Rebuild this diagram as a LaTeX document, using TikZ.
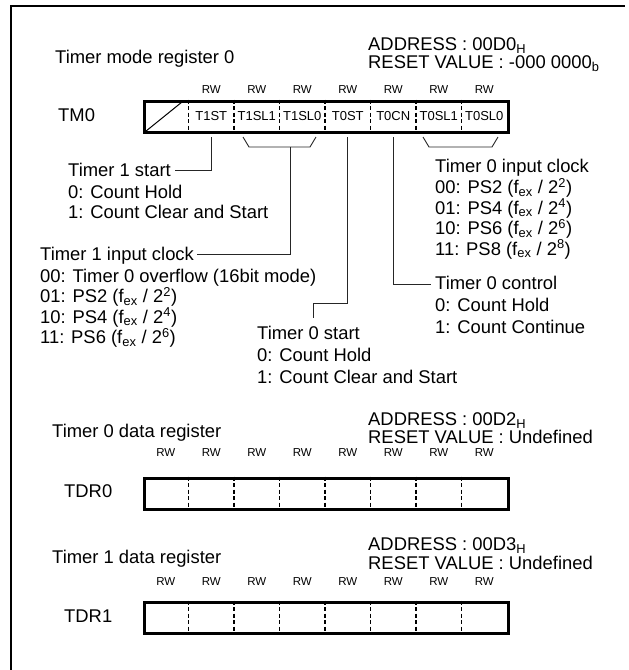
\documentclass[tikz,border=0pt]{standalone}
\usepackage{fontspec}
\setmainfont{Liberation Sans}
\usetikzlibrary{calc}
\newcommand{\ssub}[1]{\smash{\textsubscript{#1}}}
\begin{document}
\begin{tikzpicture}[x=1pt,y=-1pt,
  txt/.style={anchor=base west, inner sep=0pt, font=\fontsize{18.4}{21}\selectfont},
  rwlab/.style={anchor=base, inner sep=0pt, font=\fontsize{11.5}{13}\selectfont},
  bitlab/.style={anchor=base, inner sep=0pt, font=\fontsize{13}{14}\selectfont},
  regbox/.style={draw, line width=3.2pt, inner sep=0pt, minimum width=364pt, minimum height=31pt, anchor=north west},
  divider/.style={line width=1.8pt, dash pattern=on 4pt off 2.5pt},
  conn/.style={line width=0.9pt, draw=black!85},
  frameline/.style={line width=2pt}]
\useasboundingbox (0,0) rectangle (629,670);
\draw[frameline] (11,670) -- (11,6) -- (625,6);

% ===== TM0 =====
\node[txt] (tmtitle) at (55,63.6) {Timer mode register 0};
\node[txt] (tmaddr) at (368,50.6) {ADDRESS : 00D0\ssub{H}};
\node[txt] (tmreset) at (368,68.6) {RESET VALUE : -000 0000\ssub{b}};
\node[txt] (tmname) at (58,121.6) {TM0};
\node[regbox] (tmbox) at (143,99.5) {};
\foreach \k in {1,...,7} {
  \draw[divider] ($(tmbox.north west)+(45.5*\k,0)$) -- ($(tmbox.south west)+(45.5*\k,0)$);
}
\draw[line width=1pt] ($(tmbox.south west)+(1,-1)$) -- ($(tmbox.north west)+(39,2.5)$);
\foreach \k/\t/\n in {1/T1ST/b6,2/T1SL1/b5,3/T1SL0/b4,4/T0ST/b3,5/T0CN/b2,6/T0SL1/b1,7/T0SL0/b0} {
  \node[rwlab] (rw\n) at (143+45.5*\k+22.75,93) {RW};
  \node[bitlab] (\n) at (143+45.5*\k+22.75,120.5) {\t};
}

% connectors
\coordinate (c6a) at (211.25,137);
\coordinate (c6b) at (211.25,170);
\coordinate (c6c) at (175,170);
\draw[conn] (c6a) -- (c6b) -- (c6c);

\coordinate (br1a) at (243,137);
\coordinate (br1b) at (249,147);
\coordinate (br1c) at (310,147);
\coordinate (br1d) at (316,137);
\coordinate (br1m) at (290,147);
\coordinate (br1e) at (290,254);
\coordinate (br1f) at (197,254);
\draw[conn] (br1a) -- (br1b) -- (br1c) -- (br1d);
\draw[conn] (br1m) -- (br1e) -- (br1f);

\coordinate (c3a) at (347.75,137);
\coordinate (c3b) at (347.75,303);
\coordinate (c3c) at (313,303);
\coordinate (c3d) at (313,318);
\draw[conn] (c3a) -- (c3b) -- (c3c) -- (c3d);

\coordinate (c2a) at (393.25,137);
\coordinate (c2b) at (393.25,284);
\coordinate (c2c) at (431,284);
\draw[conn] (c2a) -- (c2b) -- (c2c);

\coordinate (br0a) at (423,137);
\coordinate (br0b) at (429,147);
\coordinate (br0c) at (492,147);
\coordinate (br0d) at (498,137);
\draw[conn] (br0a) -- (br0b) -- (br0c) -- (br0d);

% descriptions
\node[txt] (t1s0) at (68,176.6) {Timer 1 start};
\node[txt] (t1s1) at (68,198.1) {0: Count Hold};
\node[txt] (t1s2) at (68,218.6) {1: Count Clear and Start};

\node[txt] (t1c0) at (40,260.6) {Timer 1 input clock};
\node[txt] (t1c1) at (40,282.1) {00: Timer 0 overflow (16bit mode)};
\node[txt] (t1c2) at (40,302.6) {01: PS2 (f\textsubscript{ex} / 2\textsuperscript{2})};
\node[txt] (t1c3) at (40,323.1) {10: PS4 (f\textsubscript{ex} / 2\textsuperscript{4})};
\node[txt] (t1c4) at (40,343.6) {11: PS6 (f\textsubscript{ex} / 2\textsuperscript{6})};

\node[txt] (t0s0) at (257,339.6) {Timer 0 start};
\node[txt] (t0s1) at (257,361.6) {0: Count Hold};
\node[txt] (t0s2) at (257,383.6) {1: Count Clear and Start};

\node[txt] (t0c0) at (435,172.6) {Timer 0 input clock};
\node[txt] (t0c1) at (435,193.6) {00: PS2 (f\textsubscript{ex} / 2\textsuperscript{2})};
\node[txt] (t0c2) at (435,214.1) {01: PS4 (f\textsubscript{ex} / 2\textsuperscript{4})};
\node[txt] (t0c3) at (435,234.6) {10: PS6 (f\textsubscript{ex} / 2\textsuperscript{6})};
\node[txt] (t0c4) at (435,255.1) {11: PS8 (f\textsubscript{ex} / 2\textsuperscript{8})};

\node[txt] (t0n0) at (435,289.6) {Timer 0 control};
\node[txt] (t0n1) at (435,311.6) {0: Count Hold};
\node[txt] (t0n2) at (435,333.6) {1: Count Continue};

% ===== TDR0 =====
\node[txt] (d0title) at (52,437.6) {Timer 0 data register};
\node[txt] (d0addr) at (368,425.6) {ADDRESS : 00D2\ssub{H}};
\node[txt] (d0reset) at (368,443.6) {RESET VALUE : Undefined};
\node[txt] (d0name) at (64,497.6) {TDR0};
\node[regbox] (d0box) at (143,476.5) {};
\foreach \k in {1,...,7} {
  \draw[divider] ($(d0box.north west)+(45.5*\k,0)$) -- ($(d0box.south west)+(45.5*\k,0)$);
}
\foreach \k in {0,...,7} {
  \node[rwlab] (d0rw\k) at (143+45.5*\k+22.75,456) {RW};
}

% ===== TDR1 =====
\node[txt] (d1title) at (52,563.6) {Timer 1 data register};
\node[txt] (d1addr) at (368,550.6) {ADDRESS : 00D3\ssub{H}};
\node[txt] (d1reset) at (368,569.6) {RESET VALUE : Undefined};
\node[txt] (d1name) at (64,622.6) {TDR1};
\node[regbox] (d1box) at (143,600.5) {};
\foreach \k in {1,...,7} {
  \draw[divider] ($(d1box.north west)+(45.5*\k,0)$) -- ($(d1box.south west)+(45.5*\k,0)$);
}
\foreach \k in {0,...,7} {
  \node[rwlab] (d1rw\k) at (143+45.5*\k+22.75,585) {RW};
}
\end{tikzpicture}
\end{document}
